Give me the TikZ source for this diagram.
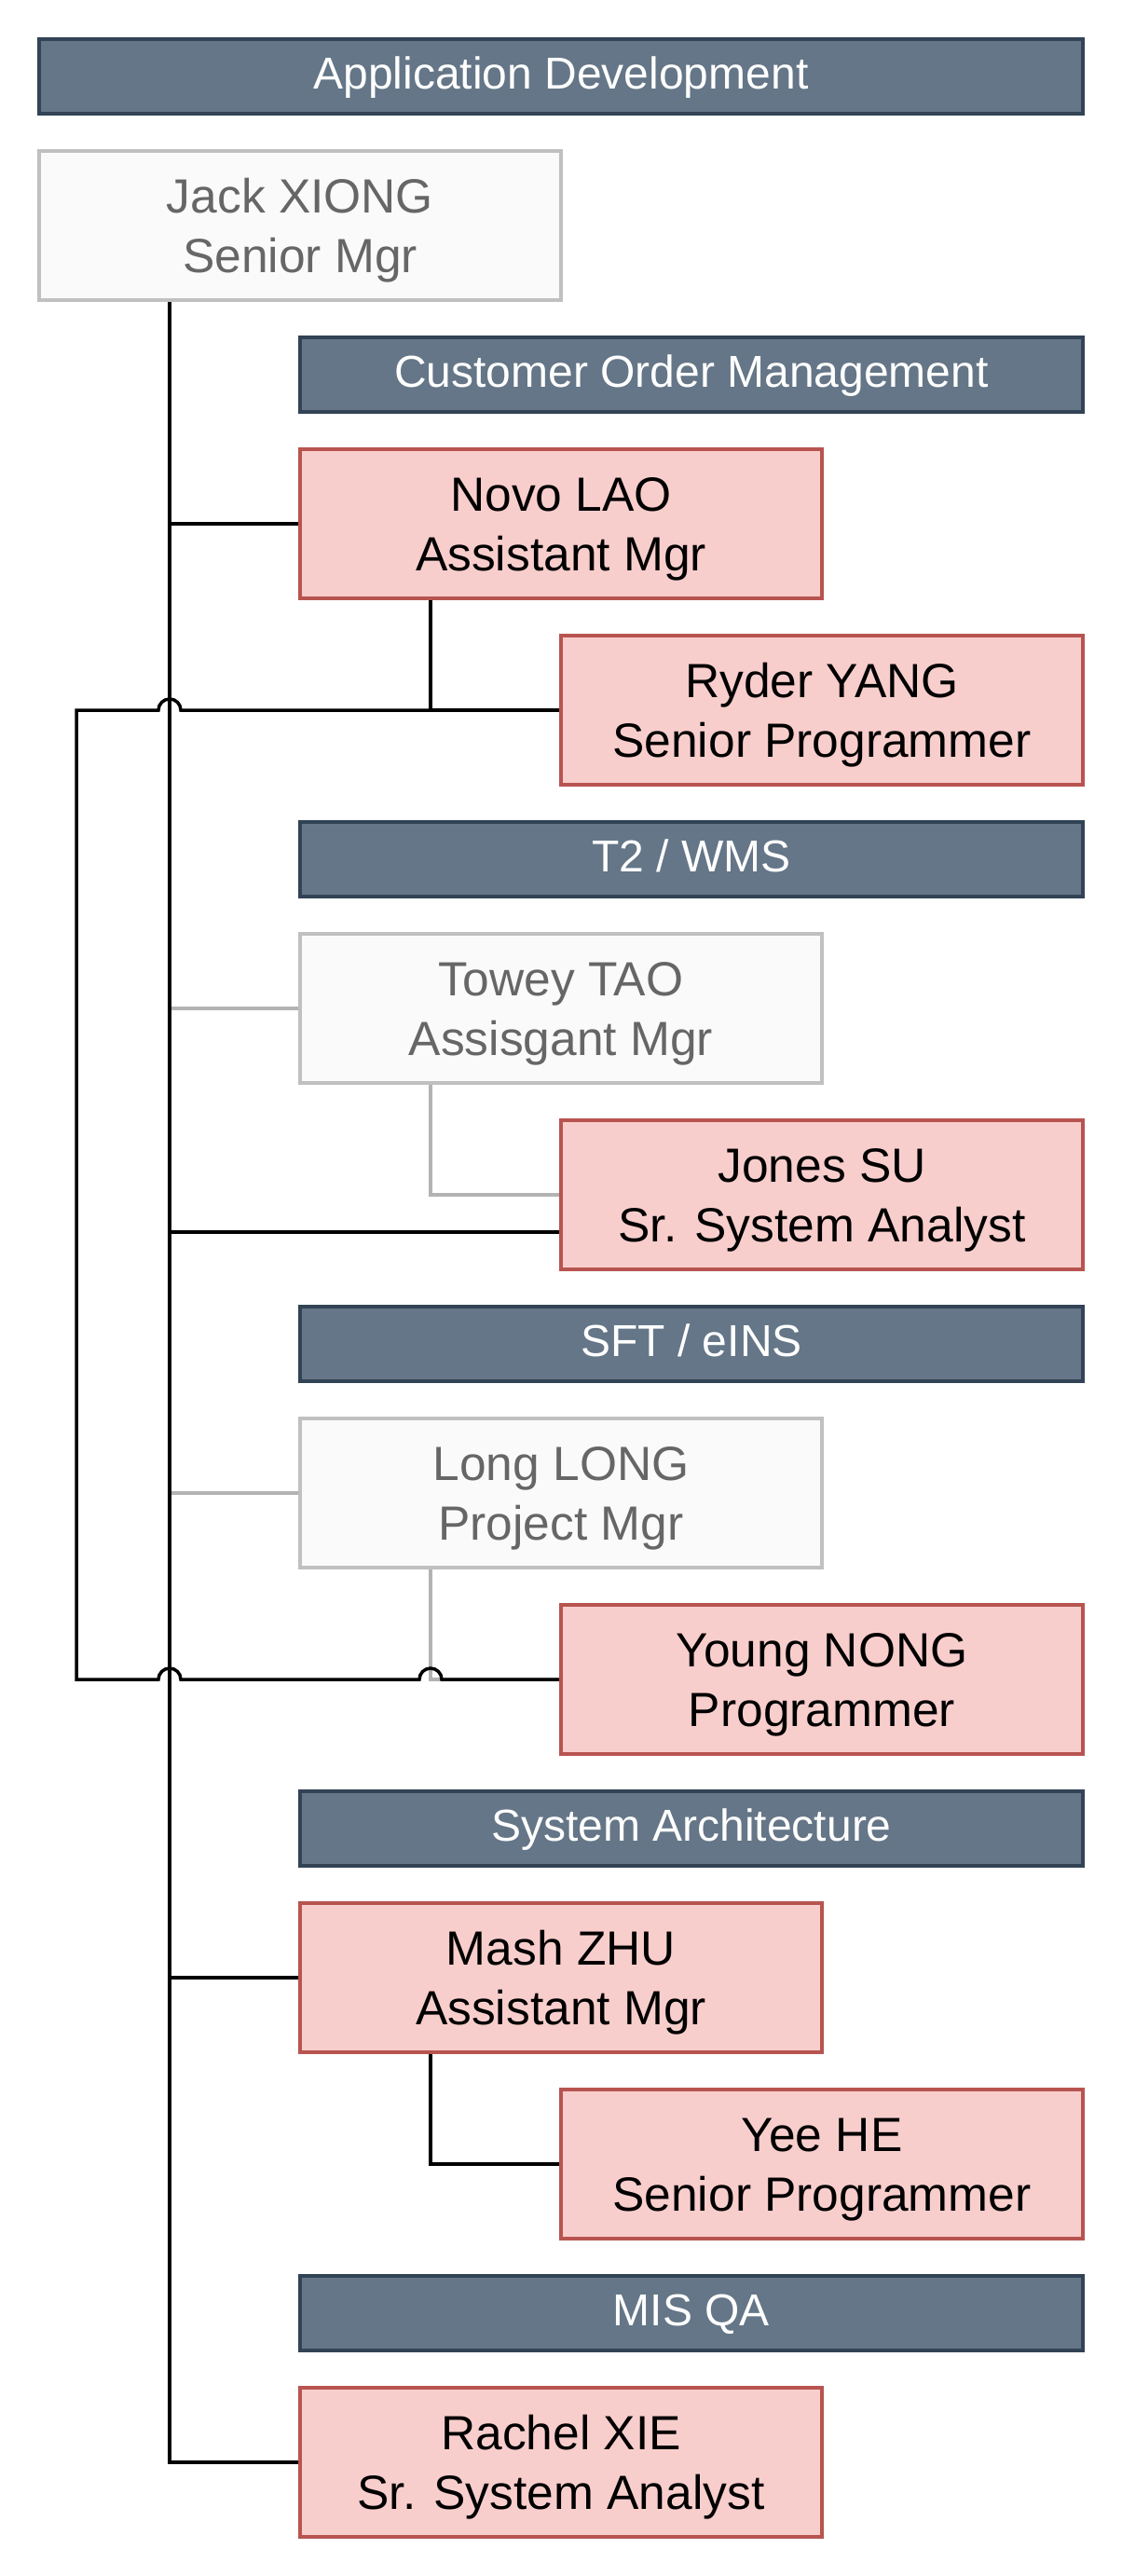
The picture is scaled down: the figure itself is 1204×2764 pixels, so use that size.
\documentclass[tikz,border=0pt]{standalone}
\usepackage{fontspec}
\setmainfont{Liberation Sans}
\usetikzlibrary{backgrounds}
\definecolor{hdrfill}{HTML}{647687}
\definecolor{hdrline}{HTML}{314354}
\definecolor{redfill}{HTML}{F8CECC}
\definecolor{redline}{HTML}{B85450}
\definecolor{grayfill}{HTML}{FAFAFA}
\definecolor{grayline}{HTML}{C0C0C0}
\definecolor{graytext}{HTML}{666666}
\definecolor{grayconn}{HTML}{B3B3B3}
\begin{document}
\begin{tikzpicture}[x=1pt,y=1pt,
 hdr/.style={draw=hdrline, fill=hdrfill, line width=3.5pt, minimum width=840pt, minimum height=80pt, inner sep=0pt, outer sep=0pt, text=white, font=\fontsize{48}{60}\selectfont, text height=36pt, text depth=9.2pt, anchor=north west},
 person/.style={line width=3.5pt, minimum width=560pt, minimum height=160pt, inner sep=0pt, outer sep=0pt, align=center, font=\fontsize{51.5}{64}\selectfont, text height=111pt, text depth=11pt, anchor=north west},
 redbox/.style={person, draw=redline, fill=redfill, text=black},
 graybox/.style={person, draw=grayline, fill=grayfill, text=graytext},
 conn/.style={line width=3.5pt, draw=black},
 gconn/.style={line width=3.5pt, draw=grayconn},
]
\useasboundingbox (0,0) rectangle (1204,-2764);

\begin{scope}[shift={(2,-2)}]
\node[hdr, minimum width=1120pt] (appdev) at (40,-40) {Application Development};
\node[graybox] (jack) at (40,-160) {Jack XIONG\\Senior Mgr};
\node[hdr] (com) at (320,-360) {Customer Order Management};
\node[redbox] (novo) at (320,-480) {Novo LAO\\Assistant Mgr};
\node[redbox] (ryder) at (600,-680) {Ryder YANG\\Senior Programmer};
\node[hdr] (t2) at (320,-880) {T2 / WMS};
\node[graybox] (towey) at (320,-1000) {Towey TAO\\Assisgant Mgr};
\node[redbox] (jones) at (600,-1200) {Jones SU\\Sr. System Analyst};
\node[hdr] (sft) at (320,-1400) {SFT / eINS};
\node[graybox] (long) at (320,-1520) {Long LONG\\Project Mgr};
\node[redbox] (young) at (600,-1720) {Young NONG\\Programmer};
\node[hdr] (sysarch) at (320,-1920) {System Architecture};
\node[redbox] (mash) at (320,-2040) {Mash ZHU\\Assistant Mgr};
\node[redbox] (yee) at (600,-2240) {Yee HE\\Senior Programmer};
\node[hdr] (misqa) at (320,-2440) {MIS QA};
\node[redbox] (rachel) at (320,-2560) {Rachel XIE\\Sr. System Analyst};

\coordinate (jx) at ([xshift=-140pt]jack.south);
\coordinate (nx) at ([xshift=-140pt]novo.south);
\coordinate (hopA) at (jx |- ryder.west);
\coordinate (cornerA) at (80,-760);
\coordinate (cornerB) at (80,-1800);
\coordinate (hopB) at (jx |- young.west);
\coordinate (hopC) at (nx |- young.west);
\end{scope}

\begin{pgfonlayer}{background}
\fill[white] (0,0) rectangle (1204,-2764);
% gray connectors
\draw[gconn] (jx) |- (towey.west);
\draw[gconn] (jx) |- (long.west);
\draw[gconn] ([xshift=-140pt]towey.south) |- (jones.west);
\draw[gconn] ([xshift=-140pt]long.south) |- (young.west);
% black connectors
\draw[conn] (jx) |- (novo.west);
\draw[conn] (jx) |- ([yshift=-40pt]jones.west);
\draw[conn] (jx) |- (mash.west);
\draw[conn] (jx) |- (rachel.west);
\draw[conn] (nx) |- (ryder.west);
\draw[conn] ([xshift=-140pt]mash.south) |- (yee.west);
\draw[conn] (nx) |- ([xshift=12pt]hopA) arc[start angle=0,end angle=180,radius=12pt]
  -- (cornerA) -- (cornerB) -- ([xshift=-12pt]hopB) arc[start angle=180,end angle=0,radius=12pt]
  -- ([xshift=-12pt]hopC) arc[start angle=180,end angle=0,radius=12pt] -- (young.west);
\end{pgfonlayer}
\end{tikzpicture}
\end{document}
